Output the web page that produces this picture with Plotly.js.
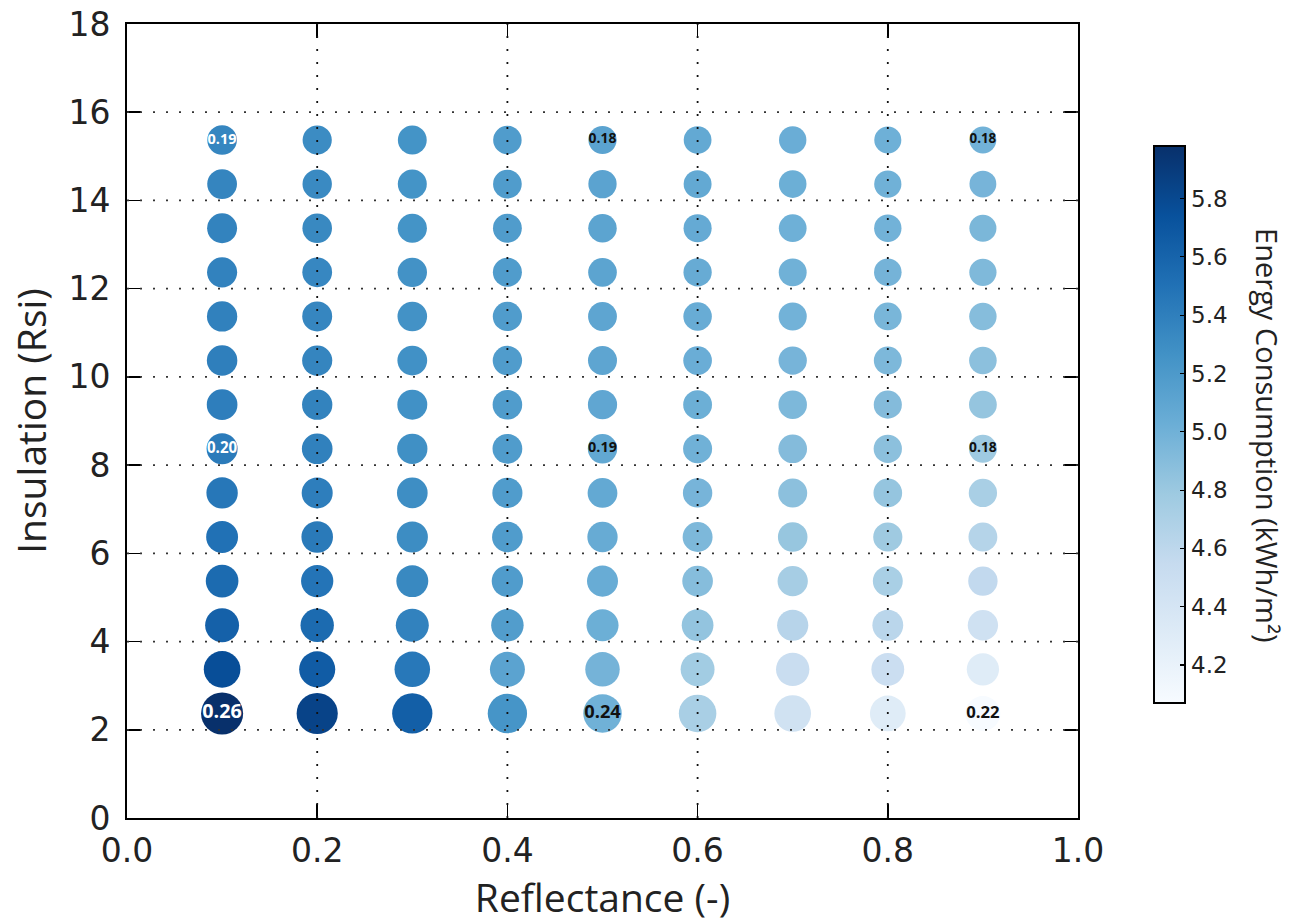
<!DOCTYPE html>
<html><head><meta charset="utf-8">
<script src="https://cdn.plot.ly/plotly-3.0.1.min.js"></script>
<style>html,body{margin:0;padding:0;background:#fff}</style>
</head><body><div id="chart" style="width:1302px;height:924px"></div>
<script>
// Reflectance (x) and insulation (y) levels
const reflectance = [0.1, 0.2, 0.3, 0.4, 0.5, 0.6, 0.7, 0.8, 0.9];
const insulation = [2.37, 3.37, 4.37, 5.37, 6.37, 7.37, 8.37, 9.37, 10.37, 11.37, 12.37, 13.37, 14.37, 15.37];

// Energy consumption (kWh/m2), one row per insulation level, columns by reflectance
const energy = [
  [5.98, 5.84, 5.64, 5.24, 5.00, 4.72, 4.45, 4.30, 4.07],
  [5.76, 5.66, 5.45, 5.12, 4.98, 4.76, 4.52, 4.50, 4.30],
  [5.62, 5.55, 5.38, 5.17, 5.02, 4.84, 4.64, 4.62, 4.46],
  [5.55, 5.48, 5.33, 5.18, 5.04, 4.90, 4.74, 4.72, 4.57],
  [5.50, 5.44, 5.30, 5.18, 5.05, 4.94, 4.82, 4.78, 4.65],
  [5.46, 5.41, 5.29, 5.18, 5.07, 4.97, 4.87, 4.83, 4.72],
  [5.43, 5.39, 5.28, 5.18, 5.08, 5.00, 4.91, 4.87, 4.78],
  [5.41, 5.37, 5.27, 5.18, 5.09, 5.02, 4.94, 4.91, 4.83],
  [5.40, 5.36, 5.27, 5.18, 5.10, 5.03, 4.97, 4.94, 4.87],
  [5.39, 5.35, 5.26, 5.18, 5.10, 5.04, 4.99, 4.96, 4.90],
  [5.38, 5.34, 5.26, 5.18, 5.11, 5.05, 5.00, 4.98, 4.93],
  [5.37, 5.33, 5.25, 5.18, 5.11, 5.06, 5.01, 4.99, 4.95],
  [5.36, 5.32, 5.25, 5.18, 5.12, 5.07, 5.02, 5.00, 4.97],
  [5.35, 5.31, 5.25, 5.18, 5.12, 5.07, 5.03, 5.01, 4.99]
];

// Secondary metric (bubble size / label value)
const metric = [
  [0.260, 0.255, 0.250, 0.245, 0.240, 0.235, 0.230, 0.225, 0.220],
  [0.230, 0.227, 0.224, 0.221, 0.218, 0.215, 0.212, 0.209, 0.206],
  [0.215, 0.212, 0.210, 0.207, 0.205, 0.203, 0.200, 0.198, 0.195],
  [0.208, 0.206, 0.204, 0.201, 0.199, 0.197, 0.195, 0.193, 0.190],
  [0.204, 0.202, 0.200, 0.197, 0.195, 0.193, 0.191, 0.189, 0.187],
  [0.201, 0.199, 0.197, 0.194, 0.192, 0.190, 0.188, 0.186, 0.184],
  [0.199, 0.197, 0.195, 0.192, 0.190, 0.188, 0.186, 0.184, 0.182],
  [0.197, 0.195, 0.193, 0.191, 0.189, 0.187, 0.185, 0.183, 0.181],
  [0.196, 0.194, 0.192, 0.190, 0.188, 0.186, 0.184, 0.182, 0.180],
  [0.195, 0.193, 0.191, 0.189, 0.187, 0.185, 0.183, 0.181, 0.179],
  [0.194, 0.192, 0.190, 0.188, 0.186, 0.184, 0.182, 0.180, 0.178],
  [0.193, 0.191, 0.189, 0.187, 0.185, 0.183, 0.181, 0.179, 0.177],
  [0.192, 0.190, 0.188, 0.186, 0.184, 0.182, 0.180, 0.178, 0.176],
  [0.191, 0.189, 0.187, 0.185, 0.183, 0.181, 0.179, 0.177, 0.176]
];

const labelColumns = [0, 4, 8];
const labelRows = [0, 6, 13];

const xTickVals = [0.0, 0.2, 0.4, 0.6, 0.8, 1.0];
const yTickVals = [0, 2, 4, 6, 8, 10, 12, 14, 16, 18];
const cbTickVals = [4.2, 4.4, 4.6, 4.8, 5.0, 5.2, 5.4, 5.6, 5.8];
const cbTitle = 'Energy Consumption (kWh/m²)';

const blues = [
  [0.0, '#f7fbff'], [0.125, '#deebf7'], [0.25, '#c6dbef'], [0.375, '#9ecae1'],
  [0.5, '#6baed6'], [0.625, '#4292c6'], [0.75, '#2171b5'], [0.875, '#08519c'], [1.0, '#08306b']
];

const xs = [], ys = [], cs = [], ss = [];
insulation.forEach((r, i) => {
  reflectance.forEach((a, j) => {
    xs.push(a); ys.push(r); cs.push(energy[i][j]); ss.push(181 * metric[i][j] - 5);
  });
});
const cmin = Math.min(...cs), cmax = Math.max(...cs);

const tx = [], ty = [], tt = [], tc = [], tsz = [];
labelRows.forEach(i => {
  labelColumns.forEach(j => {
    tx.push(reflectance[j]); ty.push(insulation[i]);
    tt.push(metric[i][j].toFixed(2));
    tc.push(energy[i][j] > 5.3 ? '#ffffff' : '#111111');
    tsz.push(76 * metric[i][j]);
  });
});

const bubbles = {
  type: 'scatter', mode: 'markers', x: xs, y: ys, hoverinfo: 'skip', showlegend: false,
  marker: {
    size: ss, color: cs, colorscale: blues, cmin: cmin, cmax: cmax, line: {width: 0}, opacity: 1,
    showscale: true,
    colorbar: {
      x: 1.08, xanchor: 'left', xpad: 0, y: 0.4956, yanchor: 'middle', ypad: 0,
      len: 0.7015, lenmode: 'fraction', thickness: 31, thicknessmode: 'pixels',
      outlinewidth: 2, outlinecolor: '#000',
      tickmode: 'array', tickvals: cbTickVals, ticktext: cbTickVals.map(v => v.toFixed(1)),
      ticks: 'inside', ticklen: 6, tickwidth: 1.2, tickcolor: '#000',
      tickfont: {family: 'DejaVu Sans', size: 23, color: '#222'}
    }
  }
};

const labels = {
  type: 'scatter', mode: 'text', x: tx, y: ty, text: tt, hoverinfo: 'skip', showlegend: false,
  textposition: 'middle center',
  textfont: {family: 'Open Sans', size: tsz, color: tc, weight: 'bold'}
};

const shapes = [];
xTickVals.slice(1, -1).forEach(v => shapes.push({
  type: 'line', xref: 'x', yref: 'paper', x0: v, x1: v, y0: 0, y1: 1, layer: 'above',
  line: {color: '#111', width: 1.8, dash: '2px,11px'}
}));
yTickVals.slice(1, -1).forEach(v => shapes.push({
  type: 'line', xref: 'paper', yref: 'y', x0: 0, x1: 1, y0: v, y1: v, layer: 'above',
  line: {color: '#333', width: 1.8, dash: '2px,11px'}
}));

const axisCommon = {
  showgrid: false, zeroline: false, showline: true, linecolor: '#000', linewidth: 2,
  mirror: 'allticks', ticks: 'inside', ticklen: 14, tickwidth: 1.5, tickcolor: '#000',
  tickfont: {family: 'DejaVu Sans', size: 33, color: '#222'}
};

const layout = {
  width: 1302, height: 924,
  margin: {l: 127, r: 224, t: 24, b: 106},
  paper_bgcolor: '#fff', plot_bgcolor: '#fff',
  xaxis: Object.assign({}, axisCommon, {
    range: [0, 1], tickmode: 'array', tickvals: xTickVals, ticktext: xTickVals.map(v => v.toFixed(1)),
    ticklabelstandoff: 2,
    title: {text: 'Reflectance (-)', standoff: 2, font: {family: 'Open Sans', size: 39, color: '#222'}}
  }),
  yaxis: Object.assign({}, axisCommon, {
    range: [0, 18], tickmode: 'array', tickvals: yTickVals, ticktext: yTickVals.map(String),
    ticklabelstandoff: 8,
    title: {text: 'Insulation (Rsi)', standoff: 10, font: {family: 'Open Sans', size: 39, color: '#222'}}
  }),
  shapes: shapes,
  annotations: [{
    text: cbTitle, xref: 'paper', yref: 'paper', x: 1.2, y: 0.482, xanchor: 'center', yanchor: 'middle',
    textangle: 90, showarrow: false, font: {family: 'Open Sans', size: 29, color: '#222'}
  }]
};

Plotly.newPlot('chart', [bubbles, labels], layout, {displayModeBar: false, staticPlot: true});
</script>
</body></html>
